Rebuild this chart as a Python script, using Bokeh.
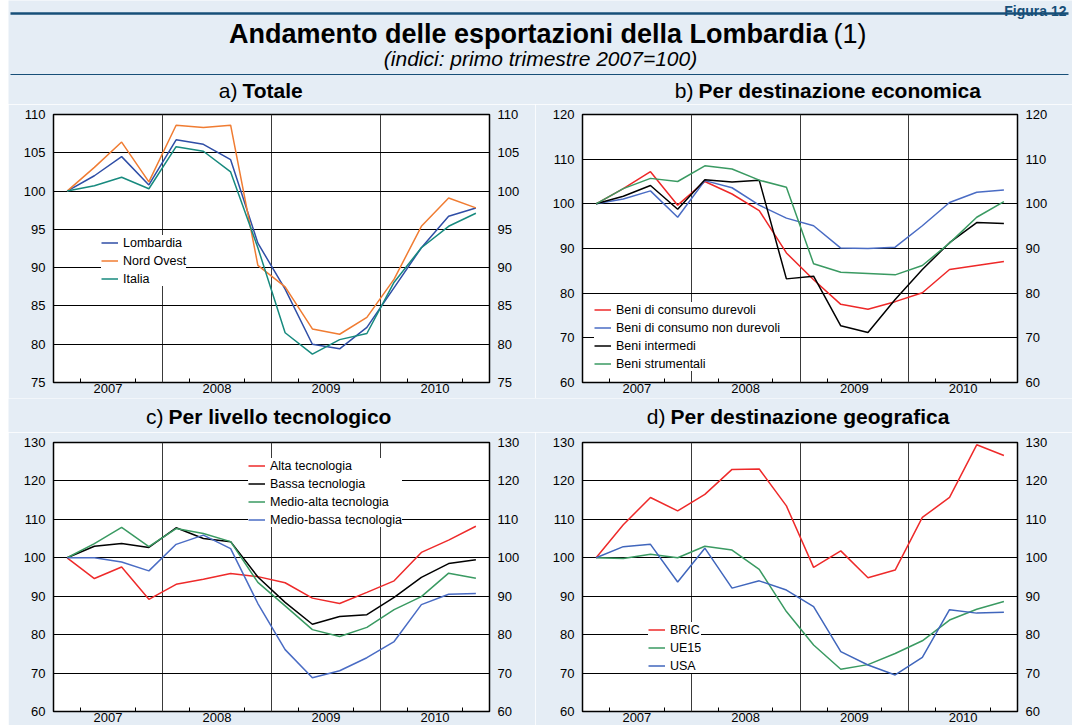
from bokeh.plotting import figure
from bokeh.models import Range1d, LinearAxis, FixedTicker, Legend, LegendItem, Spacer
from bokeh.layouts import column, row
from bokeh.embed import file_html
from bokeh.resources import INLINE
from bokeh.core.properties import value

# ---------------- data (quarterly indices, 2007 Q1 = 100) ----------------
years = ["2007", "2008", "2009", "2010"]
quarters_per_year = 4

# a) Totale
lombardia = [100, 102.0, 104.5, 100.8, 106.7, 106.1, 104.1, 93.2, 87.2, 80.0, 79.4, 82.2, 87.4, 92.6, 96.7, 97.8]
nord_ovest = [100, 103.1, 106.4, 101.2, 108.6, 108.3, 108.6, 90.3, 87.5, 82.0, 81.3, 83.5, 88.5, 95.4, 99.1, 97.8]
italia = [100, 100.7, 101.8, 100.3, 105.8, 105.2, 102.5, 92.6, 81.5, 78.7, 80.6, 81.4, 88.1, 92.6, 95.4, 97.1]

# b) Per destinazione economica
durevoli = [100, 103.4, 107.2, 99.7, 105.0, 102.2, 98.5, 89.0, 83.0, 77.5, 76.4, 78.1, 80.1, 85.3, 86.2, 87.1]
non_durevoli = [100, 101.1, 102.9, 97.0, 105.2, 103.6, 99.7, 96.8, 95.1, 90.1, 90.0, 90.3, 95.1, 100.3, 102.6, 103.1]
intermedi = [100, 101.7, 104.1, 98.8, 105.4, 104.9, 105.3, 83.2, 83.8, 72.7, 71.2, 78.6, 85.3, 91.3, 95.8, 95.6]
strumentali = [100, 103.4, 105.7, 105.0, 108.5, 107.8, 105.3, 103.7, 86.6, 84.7, 84.4, 84.1, 86.2, 91.2, 97.0, 100.5]

# c) Per livello tecnologico
alta = [100, 94.6, 97.6, 89.2, 93.1, 94.4, 95.9, 95.1, 93.5, 89.5, 88.1, 91.0, 94.0, 101.4, 104.6, 108.2]
bassa = [100, 103.0, 103.7, 102.7, 107.8, 105.0, 104.2, 95.0, 88.4, 82.7, 84.7, 85.2, 89.7, 94.9, 98.5, 99.5]
medio_alta = [100, 103.7, 107.9, 102.9, 107.6, 106.3, 104.2, 93.6, 87.5, 81.3, 79.5, 81.9, 86.5, 89.9, 96.0, 94.7]
medio_bassa = [100, 100.0, 98.9, 96.6, 103.5, 105.9, 102.4, 88.1, 76.1, 68.8, 70.6, 74.0, 78.2, 87.8, 90.5, 90.7]

# d) Per destinazione geografica
bric = [100, 108.6, 115.7, 112.2, 116.5, 123.0, 123.1, 113.5, 97.5, 101.8, 94.8, 96.8, 110.5, 115.7, 129.4, 126.6]
ue15 = [100, 99.8, 100.9, 100.0, 103.0, 102.0, 97.0, 86.0, 77.3, 71.0, 72.2, 75.1, 78.4, 83.8, 86.6, 88.6]
usa = [100, 102.9, 103.5, 93.7, 102.5, 92.1, 94.0, 91.6, 87.3, 75.6, 72.1, 69.5, 74.1, 86.5, 85.6, 85.8]

# ---------------- style ----------------
BG = "#e5edf5"
NAVY = "#174f78"
FONT = "Liberation Sans"
X0 = 8            # left white strip
W = 1064          # content width

n = len(years) * quarters_per_year
xq = list(range(n))


def strip(height, y_top, width=W):
    p = figure(width=width, height=height, x_range=Range1d(X0, X0 + width),
               y_range=Range1d(y_top + height, y_top), output_backend="svg",
               toolbar_location=None, min_border=0,
               x_axis_location=None, y_axis_location=None)
    p.grid.visible = False
    p.outline_line_color = None
    p.background_fill_color = BG
    p.border_fill_color = BG
    return p


def txt(p, x, y, s, size, style="normal", align="center", color="black", baseline="middle"):
    p.text(x=[x], y=[y], text=[s], text_font=value(FONT), text_font_size=size,
           text_font_style=style, text_align=align, text_baseline=baseline,
           text_color=color)


def panel(series, ymin, ymax, ystep, width, height, bl, br, bt, bb, legend_xy):
    p = figure(width=width, height=height, x_range=Range1d(-0.5, n - 0.5),
               y_range=Range1d(ymin, ymax), output_backend="svg",
               toolbar_location=None, min_border_left=bl, min_border_right=br,
               min_border_top=bt, min_border_bottom=bb)
    p.background_fill_color = "white"
    p.border_fill_color = BG
    p.outline_line_color = "black"
    p.outline_line_width = 1.5

    yt = list(range(ymin, ymax + 1, ystep))
    p.yaxis.ticker = FixedTicker(ticks=yt)
    p.add_layout(LinearAxis(ticker=FixedTicker(ticks=yt)), "right")
    for ax in p.yaxis:
        ax.major_tick_line_color = None
        ax.minor_tick_line_color = None
        ax.major_tick_out = 0
        ax.major_tick_in = 0
        ax.axis_line_color = None
        ax.major_label_standoff = 8
        ax.major_label_text_font = FONT
        ax.major_label_text_font_size = "13px"
        ax.major_label_text_color = "black"

    centers = [quarters_per_year * i + 1.5 for i in range(len(years))]
    minor = [quarters_per_year * i + q for i in range(len(years)) for q in (0.5, 2.5)]
    xa = p.xaxis[0]
    xa.ticker = FixedTicker(ticks=centers, minor_ticks=minor)
    xa.major_label_overrides = {c: y for c, y in zip(centers, years)}
    xa.major_tick_line_color = None
    xa.major_tick_out = 0
    xa.major_tick_in = 0
    xa.minor_tick_in = 4
    xa.minor_tick_out = 0
    xa.minor_tick_line_color = "black"
    xa.axis_line_color = None
    xa.major_label_standoff = 1
    xa.major_label_text_font = FONT
    xa.major_label_text_font_size = "13px"
    xa.major_label_text_color = "black"

    p.xgrid.ticker = FixedTicker(ticks=[quarters_per_year * i - 0.5 for i in range(1, len(years))])
    p.xgrid.grid_line_color = "#3a3a3a"
    p.xgrid.grid_line_width = 1
    p.ygrid.ticker = FixedTicker(ticks=yt[1:-1])
    p.ygrid.grid_line_color = "black"
    p.ygrid.grid_line_width = 1

    items = []
    for label, ys, color in series:
        r = p.line(xq, ys, line_color=color, line_width=1.5)
        items.append(LegendItem(label=label, renderers=[r]))
    lg = Legend(items=items, location=legend_xy)
    lg.label_text_font = FONT
    lg.label_text_font_size = "12.5px"
    lg.label_text_color = "black"
    lg.glyph_width = 17
    lg.glyph_height = 15
    lg.label_height = 15
    lg.label_standoff = 5
    lg.spacing = 3
    lg.padding = 3
    lg.margin = 0
    lg.background_fill_color = "white"
    lg.background_fill_alpha = 1
    lg.border_line_color = None
    p.add_layout(lg)
    return p


# ---------------- header ----------------
head = strip(104, 0)
txt(head, 1066, 10, "Figura 12", "14px", "bold", "right", NAVY, "alphabetic")
head.segment(x0=[10], y0=[13], x1=[1068], y1=[13], line_color=NAVY, line_width=2.5)
txt(head, 827, 33, "Andamento delle esportazioni della Lombardia", "27px", "bold", "right")
txt(head, 833, 33, "(1)", "27px", "normal", "left")
txt(head, 540, 58, "(indici: primo trimestre 2007=100)", "21px", "italic", "center")
head.segment(x0=[10], y0=[74], x1=[1068], y1=[74], line_color=NAVY, line_width=1)
txt(head, 237, 90, "a)", "21px", "normal", "right")
txt(head, 242, 90, "Totale", "21px", "bold", "left")
txt(head, 693, 90, "b)", "21px", "normal", "right")
txt(head, 698, 90, "Per destinazione economica", "21px", "bold", "left")

# ---------------- panels ----------------
pa = panel([("Lombardia", lombardia, "#2f4ea6"),
            ("Nord Ovest", nord_ovest, "#f07c32"),
            ("Italia", italia, "#178a7e")],
           75, 110, 5, 527, 294, 45, 46, 10, 16, (48, 96))
pb = panel([("Beni di consumo durevoli", durevoli, "#ee2828"),
            ("Beni di consumo non durevoli", non_durevoli, "#4a6cc4"),
            ("Beni intermedi", intermedi, "black"),
            ("Beni strumentali", strumentali, "#3a9a62")],
           60, 120, 10, 537, 294, 47, 55, 10, 16, (12, 11))

mid = strip(34, 398)
txt(mid, 163, 416, "c)", "21px", "normal", "right")
txt(mid, 168, 416, "Per livello tecnologico", "21px", "bold", "left")
txt(mid, 665, 416, "d)", "21px", "normal", "right")
txt(mid, 670, 416, "Per destinazione geografica", "21px", "bold", "left")

pc = panel([("Alta tecnologia", alta, "#ee2a2a"),
            ("Bassa tecnologia", bassa, "black"),
            ("Medio-alta tecnologia", medio_alta, "#3a9a62"),
            ("Medio-bassa tecnologia", medio_bassa, "#4a6cc4")],
           60, 130, 10, 527, 293, 45, 46, 10, 14, (195, 184))
pd_ = panel([("BRIC", bric, "#ee2a2a"),
             ("UE15", ue15, "#3a9a62"),
             ("USA", usa, "#4066bc")],
            60, 130, 10, 537, 293, 47, 55, 10, 14, (66, 38))

content = column(head, row(pa, pb, spacing=0), mid, row(pc, pd_, spacing=0), spacing=0)
layout = row(Spacer(width=X0, height=725), content, spacing=0)

open("out.html", "w").write(file_html(layout, INLINE))
